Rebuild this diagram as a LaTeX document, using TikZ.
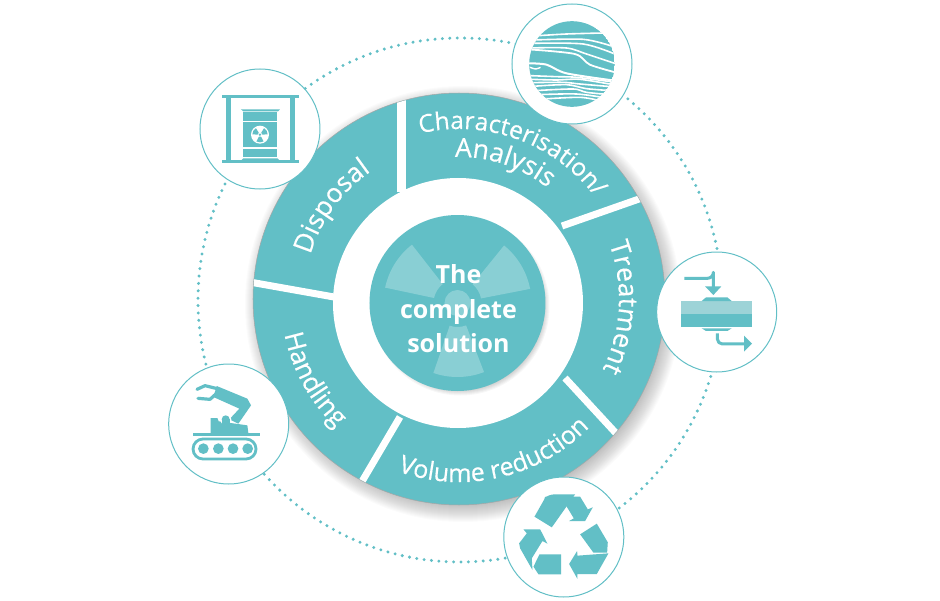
\documentclass[tikz,border=0pt]{standalone}
\usepackage{fontspec}
\setmainfont{Open Sans}
\newfontfamily\arcfamily[FakeBold = 0.4]{Open Sans}
\usetikzlibrary{decorations.text}
\definecolor{wheelteal}{HTML}{62BFC6}
\definecolor{pipelight}{HTML}{9DD3D7}
\tikzset{
  wheelpart/.style = {circle, inner sep = 0, outer sep = 0, minimum size = #1},
  iconcircle/.style = {circle, inner sep = 0, outer sep = 0, minimum size = 120, fill = white, draw = wheelteal, line width = 1},
  iconscope/.style n args = {3}{shift = {(#1.center)}, x = 0.3333pt, y = -0.3333pt, shift = {(-#2, -#3)}},
  iconfill/.style = {fill = wheelteal, draw = none},
  iconline/.style = {draw = wheelteal, line width = #1, line cap = round, line join = round},
  seam/.style = {draw = white, line width = #1},
  arclabel/.style 2 args = {decorate, decoration = {text along path, text align = center, text color = white, text = {|\arcfamily\fontsize{#1}{#1}\selectfont|#2}}}
}
\begin{document}
\begin{tikzpicture}[x = 1pt, y = 1pt]
\useasboundingbox (-460, -300) rectangle (480, 300);
% dotted ring
\draw [wheelteal, line width = 3.3, line cap = round, dash pattern = on 0pt off 7.4pt] (0, 0) circle (262);
% shadow, wheel and dividers
\foreach \d in {1, ..., 18} \fill [black, opacity = 0.016] (3, -4) circle (200 + \d);
\node [wheelpart = 412, fill = wheelteal, draw = gray!70, line width = 0.5] (disk) at (-1, 1) {};
\begin{scope}
\clip (disk.center) circle (205.7);
\draw [white, line width = 8.5] (-58.5, 215) -- (-58.5, 108);
\draw [white, line width = 7] (102, 74) -- (189, 104.5);
\draw [white, line width = 7] (105, -78) -- (165, -143);
\draw [white, line width = 7] (-60, -117) -- (-103, -190);
\draw [white, line width = 7] (-216, 19) -- (-126, 3);
\end{scope}
\node [wheelpart = 250, fill = white] (ring) at (-2, -3) {};
% hub
\foreach \d in {1, ..., 8} \fill [black, opacity = 0.03] (0.5, -6.5) circle (81 + \d);
\node [wheelpart = 176, fill = wheelteal] (hub) at (-2.5, -3) {};
\begin{scope}[shift = {(hub.center)}]
\foreach \a in {148, 31, -89}
  \fill [white, opacity = 0.25] (\a - 20:24) -- (\a - 20:74) arc [start angle = \a - 20, end angle = \a + 20, radius = 74] -- (\a + 20:24) arc [start angle = \a + 20, end angle = \a - 20, radius = 24] -- cycle;
\fill [white, opacity = 0.25] (0, 0) circle (13);
\end{scope}
\node [text = white, align = center, font = \bfseries\fontsize{25}{34.5}\selectfont] (hublabel) at (-1.5, -9) {The\\complete\\solution};
% labels on the wheel
\begin{scope}[shift = {(disk.center)}]
\path [arclabel = {24.5}{Characterisation/}] (130:170) arc [start angle = 130, end angle = 10, radius = 170];
\path [arclabel = {26.5}{Analysis}] (131.5:142) arc [start angle = 131.5, end angle = 11.5, radius = 142];
\path [arclabel = {26.5}{Treatment}] (50:160) arc [start angle = 50, end angle = -56, radius = 160];
\path [arclabel = {26.5}{Disposal}] (194:155) arc [start angle = 194, end angle = 94, radius = 155];
\path [arclabel = {26}{Handling}] (159:178) arc [start angle = 159, end angle = 259, radius = 178];
\path [arclabel = {25}{Volume reduction}] (223:183) arc [start angle = 223, end angle = 343, radius = 183];
\end{scope}
% icon circles
\node [iconcircle] (strata) at (112, 236) {};
\node [iconcircle] (barrel) at (-200, 171) {};
\node [iconcircle] (pipe) at (256.7, -12) {};
\node [iconcircle] (robot) at (-231.3, -124) {};
\node [iconcircle] (recycle) at (103.8, -237) {};
% strata
\begin{scope}[iconscope = {strata}{216.5}{190}]
\begin{scope}
\clip (216.5, 190) circle (128.5);
\fill [wheelteal] (216.5, 190) circle (128.5);
\draw [seam = 1.6] plot [smooth] coordinates {(100, 106) (200, 100) (310, 97)};
\draw [seam = 1.6] plot [smooth] coordinates {(100, 118) (250, 116) (335, 136)};
\draw [seam = 1.6] plot [smooth] coordinates {(95, 128) (250, 130) (345, 160)};
\draw [seam = 1.6] plot [smooth] coordinates {(90, 142) (200, 142) (260, 160) (350, 190)};
\draw [seam = 1.8] plot [smooth] coordinates {(85, 146) (225, 160) (270, 192) (350, 216)};
\draw [seam = 2] plot [smooth] coordinates {(85, 188) (140, 192) (200, 218) (345, 240)};
\draw [seam = 1.4] plot [smooth] coordinates {(90, 200) (108, 205) (122, 200)};
\draw [seam = 1.6] plot [smooth] coordinates {(92, 225) (170, 228) (230, 230) (340, 244)};
\draw [seam = 1.6] plot [smooth] coordinates {(95, 236) (170, 238) (240, 236) (340, 252)};
\draw [seam = 1.6] plot [smooth] coordinates {(98, 246) (190, 245) (240, 250) (335, 258)};
\draw [seam = 1.6] plot [smooth] coordinates {(100, 257) (200, 252) (260, 264) (335, 270)};
\draw [seam = 1.6] plot [smooth] coordinates {(105, 270) (220, 265) (260, 275) (330, 282)};
\draw [seam = 1.6] plot [smooth] coordinates {(115, 282) (230, 280) (320, 292)};
\draw [seam = 1.6] plot [smooth] coordinates {(130, 295) (240, 290) (300, 300)};
\end{scope}
\end{scope}
% barrel
\begin{scope}[iconscope = {barrel}{210}{205}]
\fill [iconfill] (95, 103) rectangle (328, 112);
\fill [iconfill] (107, 112) rectangle (122, 298);
\fill [iconfill] (300, 112) rectangle (316, 298);
\fill [iconfill] (95, 298) rectangle (328, 308);
\fill [iconfill] (153, 146) -- (270, 146) -- (264, 152) -- (160, 152) -- cycle;
\fill [iconfill] (160, 155) rectangle (262, 180);
\fill [iconfill] (160, 184) rectangle (262, 260);
\fill [iconfill] (160, 264) rectangle (262, 290);
\fill [iconfill] (160, 293) -- (262, 293) -- (270, 300) -- (153, 300) -- cycle;
\fill [white] (210, 222) circle (27);
\begin{scope}[shift = {(210, 222)}]
\foreach \a in {90, 210, 330}
  \fill [iconfill] (\a - 28:7) -- (\a - 28:23) arc [start angle = \a - 28, end angle = \a + 28, radius = 23] -- (\a + 28:7) -- cycle;
\fill [iconfill] (0, 0) circle (4);
\end{scope}
\end{scope}
% pipe
\begin{scope}[iconscope = {pipe}{200}{201}]
\fill [pipelight] (92, 168) rectangle (307, 208);
\fill [iconfill] (92, 208) rectangle (307, 246);
\fill [iconfill] (155, 168) -- (168, 157) -- (232, 157) -- (245, 168) -- cycle;
\fill [iconfill] (155, 250) -- (168, 258) -- (232, 258) -- (245, 250) -- cycle;
\draw [iconline = 3, line cap = butt] (103, 100) -- (172, 100) arc [start angle = 90, end angle = 0, radius = 18] -- (190, 128);
\fill [iconfill] (165, 124) -- (214, 124) -- (190, 150) -- cycle;
\draw [iconline = 3, line cap = butt] (202, 265) -- (202, 282) arc [start angle = 180, end angle = 90, radius = 15] -- (285, 297);
\fill [iconfill] (282, 272) -- (306, 296) -- (282, 320) -- cycle;
\end{scope}
% robot
\begin{scope}[iconscope = {robot}{206}{206}]
\draw [iconline = 2.8, rounded corners = 10pt] (99, 251) rectangle (288, 311);
\foreach \x in {130, 175, 219, 263} \fill [iconfill] (\x, 280) circle (16);
\fill [iconfill] (100, 234) rectangle (301, 242);
\fill [iconfill] (152, 188) -- (172, 188) -- (176, 198) -- (262, 210) -- (265, 234) -- (152, 234) -- cycle;
\fill [iconfill] (170, 92) -- (262, 130) -- (273, 150) -- (235, 205) -- (208, 192) -- (238, 160) -- (160, 125) -- cycle;
\draw [iconline = 3.2] (111, 102) -- (135, 91) -- (172, 100);
\draw [iconline = 3.2] (114, 129) -- (150, 132) -- (172, 112);
\fill [white] (197, 192) circle (17);
\fill [iconfill] (197, 192) circle (12);
\fill [iconfill] (185, 192) rectangle (209, 210);
\end{scope}
% recycling arrows
\begin{scope}[iconscope = {recycle}{206}{216}]
\fill [iconfill] (118, 155) -- (152, 95) [rounded corners = 6] -- (160, 88) [sharp corners] -- (240, 88) -- (170, 187) -- cycle;
\fill [iconfill] (213, 122) -- (232, 95) -- (255, 95) -- (278, 133) -- (293, 127) -- (270, 168) -- (222, 168) -- (236, 160) -- cycle;
\fill [iconfill] (255, 208) -- (305, 176) -- (338, 232) -- (336, 263) -- (295, 263) -- cycle;
\fill [iconfill] (222, 297) -- (246, 258) -- (247, 272) -- (340, 265) -- (305, 327) -- (247, 327) -- (247, 342) -- cycle;
\fill [iconfill] (198, 268) -- (198, 328) -- (130, 328) -- (115, 305) -- (133, 268) -- cycle;
\fill [iconfill] (85, 193) -- (135, 193) -- (157, 236) -- (142, 228) -- (110, 280) -- (112, 315) -- (75, 250) -- (72, 235) -- (95, 205) -- cycle;
\end{scope}
\end{tikzpicture}
\end{document}
